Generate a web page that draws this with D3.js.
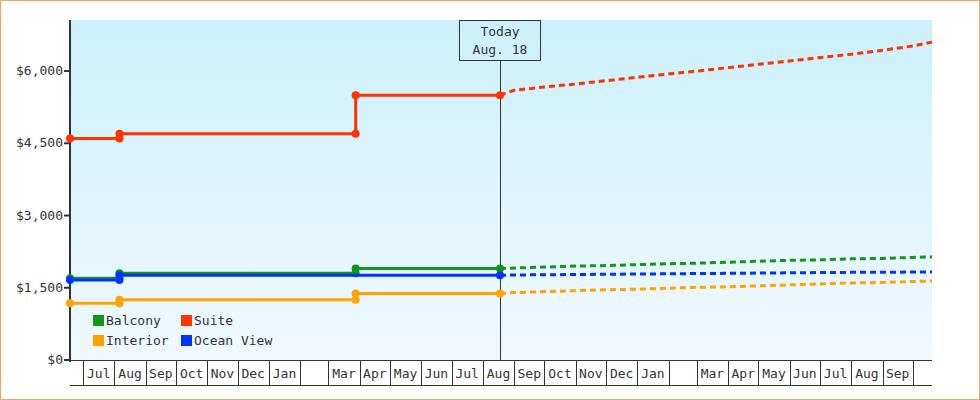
<!DOCTYPE html>
<html><head><meta charset="UTF-8">
<script src="https://d3js.org/d3.v7.min.js"></script>
<style>
body{margin:0;background:#fff}
text{font-family:"DejaVu Sans Mono",monospace;font-size:13px;fill:#333}
</style></head>
<body>
<svg id="chart" width="980" height="400"></svg>
<script>
const parse = d3.timeParse("%Y-%m-%d");
const today = "2018-08-18";
const yTicks = [0, 1500, 3000, 4500, 6000];
const series = ["Balcony", "Suite", "Interior", "Ocean View"];
const colors = ["#11961a", "#ff3300", "#ffa300", "#0033ff"];

// history: [date, price]
const historyDates = {
  "Suite":      ["2017-06-18", "2017-08-06", "2017-08-06", "2018-03-28", "2018-03-28", today],
  "Balcony":    ["2017-06-18", "2017-08-06", "2017-08-06", "2018-03-28", "2018-03-28", today],
  "Interior":   ["2017-06-18", "2017-08-06", "2017-08-06", "2018-03-28", "2018-03-28", today],
  "Ocean View": ["2017-06-18", "2017-08-06", "2017-08-06", today]
};
const historyValues = {
  "Suite":      [4600, 4600, 4700, 4700, 5500, 5500],
  "Balcony":    [1700, 1700, 1800, 1800, 1900, 1900],
  "Interior":   [1180, 1180, 1250, 1250, 1380, 1380],
  "Ocean View": [1660, 1660, 1760, 1760]
};
const forecastDates = [today, "2018-09-01", "2018-10-01", "2018-11-01", "2018-12-01", "2019-01-01",
  "2019-02-01", "2019-03-01", "2019-04-01", "2019-05-01", "2019-06-01", "2019-07-01",
  "2019-08-01", "2019-09-01", "2019-10-01", "2019-10-20"];
const forecastValues = {
  "Suite":      [5500, 5600, 5670, 5730, 5800, 5870, 5940, 6000, 6070, 6140, 6210, 6280, 6350, 6430, 6520, 6600],
  "Balcony":    [1900, 1910, 1930, 1950, 1960, 1980, 2000, 2010, 2030, 2050, 2070, 2080, 2100, 2110, 2130, 2140],
  "Interior":   [1380, 1400, 1420, 1440, 1460, 1470, 1490, 1510, 1520, 1540, 1560, 1580, 1600, 1610, 1630, 1640],
  "Ocean View": [1760, 1765, 1770, 1775, 1780, 1785, 1790, 1795, 1800, 1805, 1810, 1815, 1820, 1822, 1826, 1830]
};

const svg = d3.select("#chart");
const L = 70, R = 932, T = 20, B = 360;
const x = d3.scaleTime().domain([parse("2017-06-18"), parse("2019-10-20")]).range([L, R]);
const y = d3.scaleLinear().domain([0, 7060]).range([B, T]);

svg.append("rect").attr("x", 0.5).attr("y", 0.5).attr("width", 979).attr("height", 399)
  .attr("fill", "none").attr("stroke", "#e8a860");

const grad = svg.append("defs").append("linearGradient").attr("id", "bg")
  .attr("x1", 0).attr("y1", 0).attr("x2", 0).attr("y2", 1);
grad.append("stop").attr("offset", 0).attr("stop-color", "#ccf0fb");
grad.append("stop").attr("offset", 1).attr("stop-color", "#f0f9fd");
svg.append("rect").attr("x", L).attr("y", T).attr("width", R - L).attr("height", B - T).attr("fill", "url(#bg)");

// y axis
svg.append("line").attr("x1", L).attr("x2", L).attr("y1", T).attr("y2", B + 2)
  .attr("stroke", "#333").attr("stroke-width", 2);
yTicks.forEach(v => {
  svg.append("line").attr("x1", L - 6).attr("x2", L).attr("y1", y(v)).attr("y2", y(v))
    .attr("stroke", "#333").attr("stroke-width", 2);
  svg.append("text").attr("x", L - 7).attr("y", y(v) + 4).attr("text-anchor", "end")
    .text("$" + d3.format(",")(v));
});

// month cells
const months = d3.timeMonth.range(parse("2017-07-01"), parse("2019-10-02"));
svg.append("line").attr("x1", L).attr("x2", R).attr("y1", B + 0.5).attr("y2", B + 0.5).attr("stroke", "#333");
svg.append("line").attr("x1", L).attr("x2", R).attr("y1", 385.5).attr("y2", 385.5).attr("stroke", "#333");
months.forEach((m, i) => {
  const px = Math.round(x(m)) + 0.5;
  svg.append("line").attr("x1", px).attr("x2", px).attr("y1", B).attr("y2", 385).attr("stroke", "#333");
  if (i < months.length - 1 && m.getMonth() !== 1) {
    svg.append("text").attr("x", (x(m) + x(months[i + 1])) / 2).attr("y", 378)
      .attr("text-anchor", "middle").text(d3.timeFormat("%b")(m));
  }
});

// today marker
svg.append("line").attr("x1", x(parse(today)) + 0.5).attr("x2", x(parse(today)) + 0.5)
  .attr("y1", 60).attr("y2", B).attr("stroke", "#333");
svg.append("rect").attr("x", x(parse(today)) - 40.5).attr("y", 20.5).attr("width", 81).attr("height", 40)
  .attr("fill", "none").attr("stroke", "#333");
svg.append("text").attr("x", x(parse(today))).attr("y", 36).attr("text-anchor", "middle").text("Today");
svg.append("text").attr("x", x(parse(today))).attr("y", 54).attr("text-anchor", "middle").text("Aug. 18");

const line = d3.line().x(d => x(d[0])).y(d => y(d[1]));
series.forEach((s, i) => {
  const hist = historyDates[s].map((d, j) => [parse(d), historyValues[s][j]]);
  const fc = forecastDates.map((d, j) => [parse(d), forecastValues[s][j]]);
  svg.append("path").attr("d", line(fc)).attr("fill", "none").attr("stroke", colors[i])
    .attr("stroke-width", 3).attr("stroke-dasharray", "6,4");
  svg.append("path").attr("d", line(hist)).attr("fill", "none").attr("stroke", colors[i])
    .attr("stroke-width", 3);
  svg.selectAll(null).data(hist).enter().append("circle")
    .attr("cx", d => x(d[0])).attr("cy", d => y(d[1])).attr("r", 4).attr("fill", colors[i]);
});

// legend
series.forEach((s, i) => {
  const lx = 93 + (i % 2) * 88, ly = 315 + Math.floor(i / 2) * 20;
  svg.append("rect").attr("x", lx).attr("y", ly).attr("width", 11).attr("height", 11).attr("fill", colors[i]);
  svg.append("text").attr("x", lx + 13).attr("y", ly + 10).text(s);
});
</script>
</body></html>
